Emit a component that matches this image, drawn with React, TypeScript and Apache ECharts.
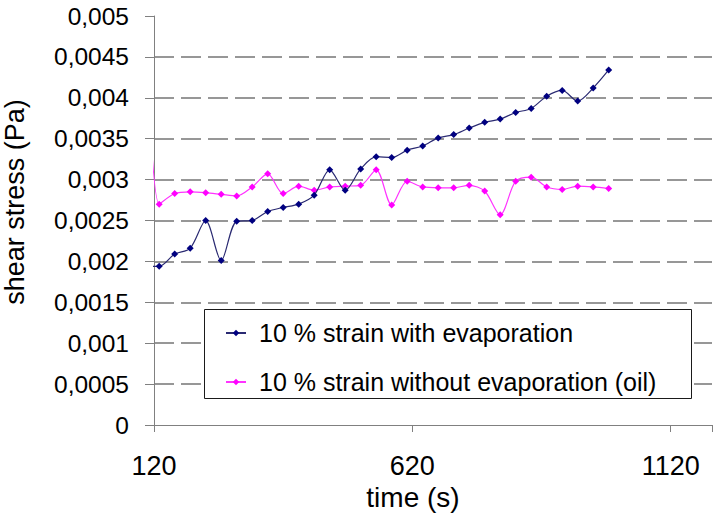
import React, { useEffect, useRef } from "react";
import * as echarts from "echarts";

// time (s); first point lies before the axis minimum and is clipped, as in the reference
const times = [100, 130, 160, 190, 220, 250, 280, 310, 340, 370, 400, 430, 460, 490, 520, 550, 580, 610, 640, 670, 700, 730, 760, 790, 820, 850, 880, 910, 940, 970, 1000];

const withEvaporation = [0.00194, 0.00194, 0.00209, 0.00216, 0.0025, 0.00201, 0.00249, 0.0025, 0.00261, 0.00266, 0.0027, 0.00281, 0.00312, 0.00287, 0.00313, 0.00328, 0.00327, 0.00336, 0.00341, 0.00351, 0.00355, 0.00363, 0.0037, 0.00374, 0.00382, 0.00387, 0.00402, 0.00409, 0.00396, 0.00412, 0.00434];

const withoutEvaporation = [0.0056, 0.0027, 0.00283, 0.00285, 0.00284, 0.00282, 0.0028, 0.00291, 0.00307, 0.00283, 0.00292, 0.00287, 0.00291, 0.00292, 0.00293, 0.00312, 0.00269, 0.00298, 0.00291, 0.0029, 0.0029, 0.00293, 0.00286, 0.00257, 0.00298, 0.00303, 0.00291, 0.00288, 0.00292, 0.00291, 0.00289];

const seriesNames = ["10 % strain with evaporation", "10 % strain without evaporation (oil)"];
const xTickLabels = [120, 620, 1120];
const xTitle = "time (s)";
const yTitle = "shear stress (Pa)";

const FONT = "'Liberation Sans', Arial, sans-serif";

export default function App() {
  const ref = useRef<HTMLDivElement>(null);
  useEffect(() => {
    if (!ref.current) return;
    const chart = echarts.init(ref.current, undefined, { renderer: "svg" });
    const toPairs = (vals: number[]) => times.map((t, i) => [t, vals[i]]);
    chart.setOption({
      animation: false,
      backgroundColor: "#ffffff",
      textStyle: { fontFamily: FONT },
      grid: { left: 154, right: 1, top: 16, bottom: 90, containLabel: false },
      xAxis: {
        type: "value",
        min: 120,
        max: 1200,
        interval: 500,
        axisLine: { show: true, lineStyle: { color: "#808080", width: 1 } },
        axisTick: { show: true, inside: false, length: 7, lineStyle: { color: "#808080" } },
        axisLabel: {
          margin: 27,
          fontSize: 27,
          color: "#000",
          fontFamily: FONT,
          formatter: (v: number) => (xTickLabels.includes(v) ? String(v) : ""),
        },
        splitLine: { show: false },
      },
      yAxis: {
        type: "value",
        min: 0,
        max: 0.005,
        interval: 0.0005,
        axisLine: { show: true, lineStyle: { color: "#808080", width: 1 } },
        axisTick: { show: true, inside: false, length: 9, lineStyle: { color: "#808080" } },
        axisLabel: {
          margin: 25,
          fontSize: 24.5,
          color: "#000",
          fontFamily: FONT,
          formatter: (v: number) =>
            v === 0 ? "0" : parseFloat(v.toFixed(5)).toString().replace(".", ","),
        },
        splitLine: {
          show: true,
          showMinLine: false,
          showMaxLine: false,
          lineStyle: { color: "#767676", width: 1.7, type: [20, 7] },
        },
      },
      legend: {
        show: true,
        orient: "vertical",
        left: 225,
        top: 320,
        padding: 0,
        itemGap: 23,
        itemWidth: 20,
        itemHeight: 8,
        z: 10,
        textStyle: {
          fontSize: 25,
          lineHeight: 26,
          color: "#000",
          fontFamily: FONT,
          padding: [0, 0, 0, 8],
        },
        data: seriesNames,
      },
      graphic: [
        {
          type: "rect",
          z: 5,
          shape: { x: 204.5, y: 309.5, width: 487, height: 89 },
          style: { fill: "#ffffff", stroke: "#1a1a1a", lineWidth: 1 },
        },
        {
          type: "text",
          z: 5,
          x: 413,
          y: 497,
          style: {
            text: xTitle,
            font: `28px ${FONT}`,
            fill: "#000",
            textAlign: "center",
            textVerticalAlign: "middle",
          },
        },
        {
          type: "text",
          z: 5,
          x: 15,
          y: 202,
          rotation: Math.PI / 2,
          style: {
            text: yTitle,
            font: `27px ${FONT}`,
            fill: "#000",
            textAlign: "center",
            textVerticalAlign: "middle",
          },
        },
      ],
      series: [
        {
          name: seriesNames[0],
          type: "line",
          data: toPairs(withEvaporation),
          smooth: 0.3,
          clip: true,
          symbol: "diamond",
          symbolSize: 7,
          itemStyle: { color: "#000080" },
          lineStyle: { color: "#2a2a72", width: 1.2 },
          z: 3,
        },
        {
          name: seriesNames[1],
          type: "line",
          data: toPairs(withoutEvaporation),
          smooth: 0.3,
          clip: true,
          symbol: "diamond",
          symbolSize: 7,
          itemStyle: { color: "#ff00ff" },
          lineStyle: { color: "#ff33ff", width: 1.2 },
          z: 2,
        },
      ],
    });
    return () => chart.dispose();
  }, []);
  return (
    <div
      ref={ref}
      style={{ position: "absolute", left: 0, top: 0, width: 715, height: 515 }}
    />
  );
}
